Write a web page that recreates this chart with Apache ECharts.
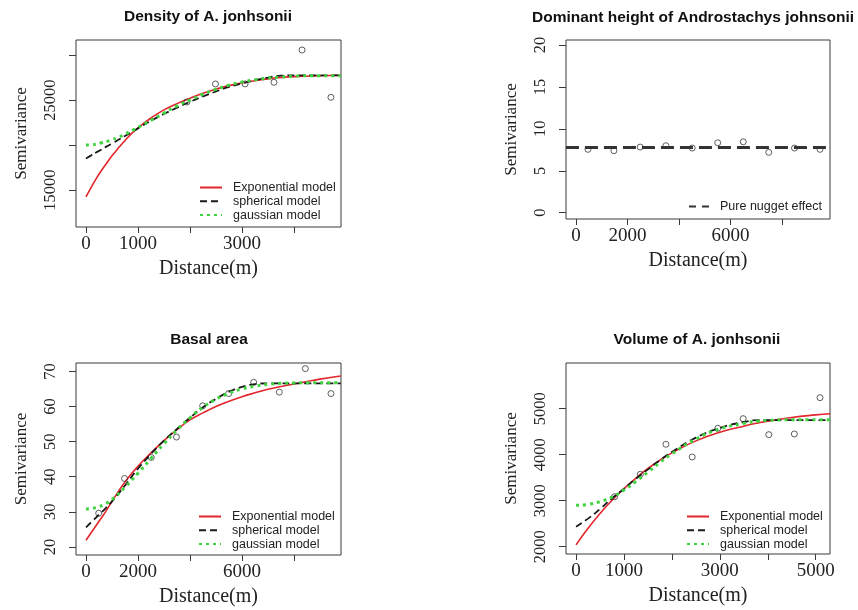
<!DOCTYPE html>
<html>
<head>
<meta charset="utf-8">
<script src="https://cdn.jsdelivr.net/npm/echarts@6/dist/echarts.min.js"></script>
<style>
html,body{margin:0;padding:0;background:#fff;}
#chart{width:858px;height:610px;}
</style>
</head>
<body>
<div id="chart"></div>
<script>
// ---------- DATA ----------
// Panel 1: Density of A. jonhsonii
const p1PointDist = [1940, 2490, 3060, 3615, 4155, 4710];
const p1PointSemi = [24780, 26790, 26790, 26970, 30560, 25300];
const p1CurveDist = [0, 100, 200, 300, 400, 500, 600, 750, 900, 1000, 1250, 1500, 1750, 2000, 2250, 2500, 2750, 3000, 3250, 3500, 3750, 4000, 4500, 4900];
const p1Exponential = [14250, 15300, 16300, 17200, 18000, 18800, 19500, 20500, 21400, 21900, 23000, 23900, 24600, 25200, 25750, 26200, 26600, 26900, 27150, 27350, 27500, 27600, 27700, 27750];
const p1Spherical = [18500, 18850, 19200, 19500, 19850, 20150, 20500, 21000, 21500, 21850, 22700, 23450, 24150, 24800, 25400, 25950, 26450, 26850, 27200, 27500, 27700, 27750, 27750, 27750];
const p1Gaussian = [20000, 20020, 20100, 20250, 20400, 20600, 20800, 21200, 21650, 21950, 22750, 23550, 24350, 25000, 25650, 26200, 26650, 27000, 27250, 27450, 27550, 27650, 27700, 27700];
const p1XTicks = [0, 1000, 2000, 3000, 4000];
const p1XLabels = [0, 1000, 3000];
const p1YTicks = [15000, 20000, 25000, 30000];
const p1YLabels = [15000, 25000];

// Panel 2: Dominant height of Androstachys johnsonii
const p2PointDist = [465, 1470, 2490, 3490, 4510, 5500, 6490, 7480, 8480, 9470];
const p2PointSemi = [7.56, 7.39, 7.83, 7.99, 7.71, 8.34, 8.46, 7.2, 7.71, 7.56];
const p2NuggetDist = [-390, 9860];
const p2NuggetSemi = [7.79, 7.79];
const p2XTicks = [0, 2000, 4000, 6000, 8000];
const p2XLabels = [0, 2000, 6000];
const p2YTicks = [0, 5, 10, 15, 20];
const p2YLabels = [0, 5, 10, 15, 20];

// Panel 3: Basal area
const p3PointDist = [488, 1480, 2510, 3480, 4487, 5487, 6450, 7436, 8436, 9423];
const p3PointSemi = [29.6, 39.5, 45.5, 51.3, 60.2, 63.7, 66.9, 64.1, 70.8, 63.7];
const p3CurveDist = [0, 250, 500, 750, 1000, 1500, 2000, 2500, 3000, 3500, 4000, 4500, 5000, 5500, 6000, 6500, 7000, 7500, 8000, 8500, 9000, 9800];
const p3Exponential = [21.9, 24.6, 27.3, 30.0, 33.0, 38.5, 43.0, 46.8, 50.3, 53.4, 56.2, 58.2, 60.0, 61.5, 62.8, 63.9, 64.9, 65.7, 66.4, 67.1, 67.8, 68.7];
const p3Spherical = [25.6, 27.4, 29.2, 31.0, 33.0, 37.5, 42.3, 46.5, 50.3, 53.6, 56.8, 59.8, 62.2, 64.2, 65.6, 66.4, 66.6, 66.6, 66.6, 66.6, 66.6, 66.6];
const p3Gaussian = [30.8, 31.0, 31.5, 32.3, 33.5, 37.0, 41.0, 45.2, 49.4, 53.3, 56.8, 59.8, 62.1, 63.8, 65.0, 65.8, 66.3, 66.6, 66.7, 66.8, 66.8, 66.8];
const p3XTicks = [0, 2000, 4000, 6000, 8000];
const p3XLabels = [0, 2000, 6000];
const p3YTicks = [20, 30, 40, 50, 60, 70];
const p3YLabels = [20, 30, 40, 50, 60, 70];

// Panel 4: Volume of A. jonhsonii
const p4PointDist = [804, 1340, 1875, 2423, 2958, 3486, 4021, 4554, 5090];
const p4PointSemi = [3087, 3574, 4226, 3950, 4574, 4783, 4435, 4450, 5239];
const p4CurveDist = [0, 250, 500, 750, 1000, 1250, 1500, 1750, 2000, 2500, 3000, 3500, 3800, 4000, 4500, 5000, 5300];
const p4Exponential = [2040, 2400, 2720, 3010, 3260, 3490, 3700, 3880, 4040, 4300, 4490, 4620, 4690, 4730, 4810, 4865, 4890];
const p4Spherical = [2435, 2610, 2820, 3050, 3260, 3480, 3680, 3880, 4060, 4370, 4580, 4710, 4750, 4750, 4750, 4750, 4750];
const p4Gaussian = [2900, 2920, 2980, 3080, 3230, 3420, 3620, 3830, 4020, 4340, 4560, 4680, 4730, 4745, 4760, 4760, 4760];
const p4XTicks = [0, 1000, 2000, 3000, 4000, 5000];
const p4XLabels = [0, 1000, 3000, 5000];
const p4YTicks = [2000, 3000, 4000, 5000];
const p4YLabels = [2000, 3000, 4000, 5000];

const titles = ['Density of A. jonhsonii', 'Dominant height of Androstachys johnsonii', 'Basal area', 'Volume of A. jonhsonii'];
const xName = 'Distance(m)';
const yName = 'Semivariance';
const modelNames = ['Exponential model', 'spherical model', 'gaussian model'];
const nuggetName = 'Pure nugget effect';

// ---------- LAYOUT / STYLE ----------
const grids = [
  {left: 76, top: 40, width: 265, height: 187},
  {left: 566, top: 40, width: 264, height: 179},
  {left: 76, top: 363, width: 265, height: 192},
  {left: 566, top: 363, width: 264, height: 191}
];
const xRanges = [[-192, 4904], [-388, 9857], [-385, 9808], [-210, 5298]];
const yRanges = [[10890, 31670], [-0.75, 20.6], [17.7, 72.4], [1841, 5993]];
const xTickSets = [p1XTicks, p2XTicks, p3XTicks, p4XTicks];
const xLabelSets = [p1XLabels, p2XLabels, p3XLabels, p4XLabels];
const yTickSets = [p1YTicks, p2YTicks, p3YTicks, p4YTicks];
const yLabelSets = [p1YLabels, p2YLabels, p3YLabels, p4YLabels];

const serif = '"Liberation Serif", "Times New Roman", serif';
const sans = '"Liberation Sans", Arial, sans-serif';
const boxColor = '#3a3a3a';

const red = '#e2262c';
const black = '#1a1a1a';
const green = '#3ed43e';

function zip(a, b) { return a.map((v, i) => [v, b[i]]); }
const plain = v => String(v);

const xAxes = grids.map((g, i) => ({
  type: 'value', gridIndex: i, position: 'bottom', min: xRanges[i][0], max: xRanges[i][1],
  name: xName, nameLocation: 'middle', nameGap: 32,
  nameTextStyle: {fontFamily: serif, fontSize: 20, color: '#222'},
  axisLine: {show: false, onZero: false},
  axisTick: {show: true, inside: false, length: 6, customValues: xTickSets[i], lineStyle: {color: boxColor}},
  axisLabel: {customValues: xLabelSets[i], formatter: plain, fontFamily: serif, fontSize: 19, color: '#222', margin: 8},
  splitLine: {show: false}
}));
const yAxes = grids.map((g, i) => ({
  type: 'value', gridIndex: i, position: 'left', min: yRanges[i][0], max: yRanges[i][1],
  name: yName, nameLocation: 'middle', nameGap: 46, nameRotate: 90,
  nameTextStyle: {fontFamily: serif, fontSize: 17, color: '#222'},
  axisLine: {show: false, onZero: false},
  axisTick: {show: true, inside: false, length: 7, customValues: yTickSets[i], lineStyle: {color: boxColor}},
  axisLabel: {customValues: yLabelSets[i], formatter: plain, rotate: 90, fontFamily: serif, fontSize: 16.5, color: '#222', margin: 17},
  splitLine: {show: false}
}));

function pointSeries(i, xs, ys) {
  return {type: 'scatter', xAxisIndex: i, yAxisIndex: i, data: zip(xs, ys), symbol: 'circle', symbolSize: 6,
    itemStyle: {color: 'rgba(0,0,0,0)', borderColor: '#222', borderWidth: 0.9}, z: 3, silent: true};
}
function curve(i, name, xs, ys, style) {
  return {type: 'line', name: name, xAxisIndex: i, yAxisIndex: i, data: zip(xs, ys), showSymbol: false, symbol: 'none',
    smooth: 0.5, lineStyle: style, itemStyle: {color: style.color}, z: style.z || 2, silent: true};
}
const expStyle = {color: red, width: 1.6, type: 'solid'};
const sphStyle = {color: black, width: 1.8, type: [7, 4], z: 3};
const gauStyle = {color: green, width: 3, type: [3, 4], z: 4};
const nugStyle = {color: '#333', width: 3, type: [13, 6], z: 4};

const series = [
  pointSeries(0, p1PointDist, p1PointSemi),
  curve(0, modelNames[0], p1CurveDist, p1Exponential, expStyle),
  curve(0, modelNames[1], p1CurveDist, p1Spherical, sphStyle),
  curve(0, modelNames[2], p1CurveDist, p1Gaussian, gauStyle),

  pointSeries(1, p2PointDist, p2PointSemi),
  Object.assign(curve(1, nuggetName, p2NuggetDist, p2NuggetSemi, nugStyle), {smooth: false}),

  pointSeries(2, p3PointDist, p3PointSemi),
  curve(2, modelNames[0], p3CurveDist, p3Exponential, expStyle),
  curve(2, modelNames[1], p3CurveDist, p3Spherical, sphStyle),
  curve(2, modelNames[2], p3CurveDist, p3Gaussian, gauStyle),

  pointSeries(3, p4PointDist, p4PointSemi),
  curve(3, modelNames[0], p4CurveDist, p4Exponential, expStyle),
  curve(3, modelNames[1], p4CurveDist, p4Spherical, sphStyle),
  curve(3, modelNames[2], p4CurveDist, p4Gaussian, gauStyle)
];

const legendText = {fontFamily: sans, fontSize: 12.5, color: '#222', padding: [0, 0, 0, 6]};
function legendAt(left, top, names, w, lineStyle) {
  const lg = {data: names, left: left, top: top, orient: 'vertical', itemWidth: w || 22, itemHeight: 12, itemGap: 0.8,
    padding: 0, textStyle: legendText, selectedMode: false, itemStyle: {opacity: 0, borderWidth: 0}};
  if (lineStyle) lg.lineStyle = lineStyle;
  return lg;
}

const titleCenters = [[208, 9], [693, 10], [209, 332], [697, 332]];
const option = {
  animation: false,
  backgroundColor: '#fff',
  title: titles.map((t, i) => ({text: t, left: titleCenters[i][0], top: titleCenters[i][1], textAlign: 'center', padding: 0,
    textStyle: {fontFamily: sans, fontWeight: 'bold', fontSize: 15.5, color: '#111'}})),
  grid: grids.map(g => Object.assign({show: true, borderColor: boxColor, borderWidth: 1, backgroundColor: 'transparent', containLabel: false}, g)),
  xAxis: xAxes,
  yAxis: yAxes,
  legend: [
    legendAt(199, 181, modelNames),
    legendAt(688, 200, [nuggetName], 20, {type: [7, 6], width: 2}),
    legendAt(198, 510, modelNames),
    legendAt(686, 510, modelNames)
  ],
  series: series
};

const chart = echarts.init(document.getElementById('chart'), null, {renderer: 'canvas'});
chart.setOption(option);
</script>
</body>
</html>
